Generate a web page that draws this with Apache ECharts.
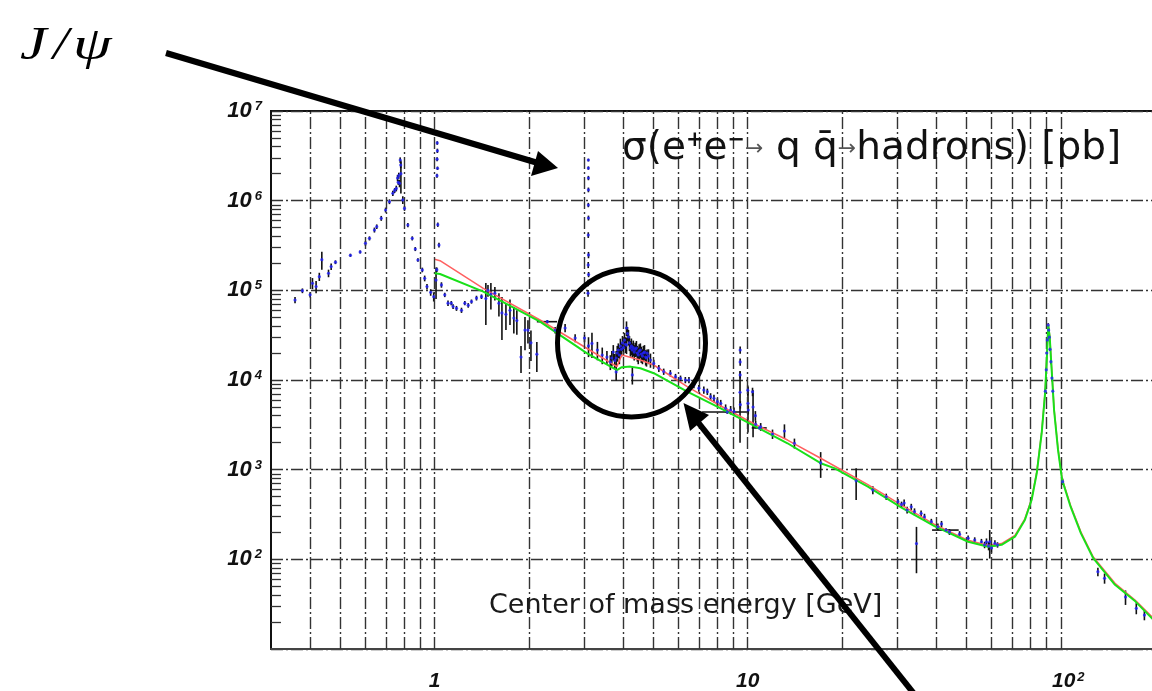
<!DOCTYPE html>
<html>
<head>
<meta charset="utf-8">
<title>sigma(e+e- -> hadrons)</title>
<script src="https://cdn.jsdelivr.net/npm/echarts@6.0.0/dist/echarts.min.js"></script>
<style>
html,body{margin:0;padding:0;background:#fff;}
#main{width:1152px;height:691px;}
</style>
</head>
<body>
<div id="main"></div>
<script>
// ---------------- values ----------------
const xGridValues = [0.4,0.5,0.6,0.7,0.8,0.9,1,2,3,4,5,6,7,8,9,10,20,30,40,50,60,70,80,90,100];
const xLabelValues = [1, 10, 100];
const yLabelExponents = [2, 3, 4, 5, 6, 7];

// [energy GeV, sigma pb, error pb]
const rhoOmegaPoints = [
  [0.358,7.8e4,6e3],[0.378,9.9e4,6e3],[0.400,8.9e4,6e3],[0.407,1.2e5,1.7e4],[0.418,1.1e5,1.7e4],
  [0.428,1.42e5,1.5e4],[0.436,2.2e5,5e4],[0.458,1.55e5,1.5e4],[0.467,1.84e5,1.5e4],[0.482,2.06e5,1e4],
  [0.538,2.46e5,1e4],[0.578,2.68e5,1e4],[0.601,3.35e5,2e4],[0.619,3.8e5,2e4],[0.642,4.71e5,3e4],
  [0.653,5.13e5,3e4],[0.675,6.36e5,4e4],[0.697,7.87e5,5e4],[0.717,9.75e5,6e4],[0.735,1.21e6,8e4],
  [0.745,1.3e6,8e4],[0.754,1.37e6,1e5],[0.761,1.79e6,1.5e5],[0.765,1.6e6,1e5],[0.768,1.9e6,1.5e5],
  [0.772,1.56e6,1.5e5],[0.776,2.84e6,2e5],[0.779,2.5e6,2e5],[0.780,2.0e6,8e5],[0.791,1.02e6,1e5],
  [0.801,8.2e5,5e4],[0.821,5.35e5,3e4],[0.848,3.8e5,2e4],[0.867,2.89e5,1.5e4],[0.884,2.18e5,1e4],
  [0.913,1.69e5,1e4],[0.929,1.36e5,1e4],[0.945,1.1e5,8e3],[0.971,9.5e4,8e3],[0.993,8.5e4,1e4]
];
const phiPoints = [
  [1.010,1.3e5,5e4],[1.016,1.7e5,1e4],[1.017,1.9e6,1e5],[1.018,2.9e6,1.5e5],[1.019,4.4e6,2e5],
  [1.020,3.6e6,2e5],[1.021,2.3e6,1e5],[1.023,5.4e5,3e4],[1.032,3.2e5,2e4],[1.051,1.15e5,8e3],
  [1.077,8.9e4,5e3],[1.103,7.2e4,5e3],[1.130,7.2e4,4e3],[1.145,6.6e4,4e3],[1.174,6.3e4,4e3],
  [1.218,6.0e4,4e3],[1.248,7.2e4,4e3],[1.280,6.8e4,4e3],[1.311,7.5e4,4e3],[1.360,8.2e4,5e3],
  [1.411,8.5e4,5e3]
];
const lightQuarkPoints = [
  [1.457,8.1e4,4e4],[1.480,1.0e5,1.5e4],[1.512,9.1e4,3e4],[1.557,9.3e4,1.6e4],[1.604,7.2e4,2.1e4],
  [1.640,5.6e4,2.8e4],[1.689,5.4e4,1.8e4],[1.740,6.0e4,1.9e4],[1.790,4.9e4,1.6e4],[1.830,4.6e4,1.4e4],
  [1.887,1.8e4,6e3],[1.943,3.6e4,1.45e4],[1.986,3.6e4,1.05e4],[2.030,2.6e4,9.7e3],[2.120,1.94e4,7.1e3],
  [2.425,3.6e4,3e3],[2.610,3.8e4,4e3],[2.810,2.94e4,3e3],[3.010,2.94e4,3e3]
];
const jpsiPoints = [
  [3.090,9.3e4,8e3],[3.092,1.21e5,1e4],[3.094,1.92e5,1.5e4],[3.095,4.14e5,3e4],[3.096,8.95e5,5e4],
  [3.097,2.84e6,1e5],[3.097,2.31e6,1e5],[3.098,1.79e6,1e5],[3.098,1.32e6,8e4],[3.099,6.41e5,4e4],
  [3.100,2.48e5,2e4],[3.100,2.4e4,6e3],[3.102,1.5e5,1e4]
];
const charmPoints = [
  [3.18,2.56e4,8e3],[3.31,2.16e4,5e3],[3.43,1.9e4,4e3],[3.55,1.8e4,3e3],
  [3.64,1.59e4,3e3],[3.68,1.76e4,3.5e3],[3.72,2.05e4,4e3],[3.76,1.65e4,3e3],[3.80,1.76e4,3.5e3],
  [3.80,1.23e4,2.5e3],[3.83,2.0e4,4e3],[3.86,2.16e4,4e3],[3.89,1.9e4,4e3],[3.92,2.39e4,5e3],
  [3.95,2.2e4,4e3],[3.98,2.59e4,5e3],[4.01,2.3e4,4.5e3],[4.04,2.79e4,5.5e3],[4.07,2.5e4,5e3],
  [4.10,2.45e4,5e3],[4.10,3.8e4,7e3],[4.13,3.3e4,6e3],[4.16,3.02e4,6e3],[4.19,2.6e4,5e3],
  [4.22,2.27e4,4.5e3],[4.25,2.4e4,5e3],[4.28,2.16e4,4e3],[4.28,1.14e4,2.5e3],[4.31,2.3e4,4.5e3],
  [4.34,2.05e4,4e3],[4.37,2.2e4,4e3],[4.41,2.27e4,4.5e3],[4.44,2.0e4,4e3],[4.47,1.9e4,4e3],
  [4.50,2.1e4,4e3],[4.54,2.16e4,4e3],[4.57,1.95e4,4e3],[4.61,1.85e4,3.5e3],[4.64,2.0e4,4e3],
  [4.68,2.05e4,4e3],[4.72,1.8e4,3.5e3],[4.75,1.76e4,3.5e3],[4.82,1.85e4,3.5e3],[4.89,1.67e4,3e3]
];
const midEnergyPoints = [
  [4.77,1.99e4,2e3],[5.01,1.53e4,1.5e3],[5.20,1.35e4,1.2e3],[5.39,1.24e4,1e3],[5.66,1.19e4,1e3],
  [5.88,1.09e4,800],[6.10,1.04e4,800],[6.32,1.0e4,800],[6.49,1.0e4,800],[6.73,8.8e3,700],
  [6.98,8.1e3,700],[7.24,7.74e3,700],[7.43,7.41e3,600],[7.61,6.52e3,600],[7.80,6.25e3,600],
  [8.00,5.73e3,500],[8.20,5.5e3,500],[8.50,4.84e3,500],[8.82,4.63e3,500],[9.04,4.44e3,500]
];
const upsilonPoints = [
  [9.45,7.3e3,5.3e3],[9.46,2.16e4,2e3],[9.46,1.59e4,1.5e3],[9.46,1.14e4,1e3],[9.47,5.3e3,500],
  [10.0,7.7e3,1e3],[10.02,5.5e3,2.9e3],[10.04,4.63e3,500],[10.36,7.4e3,800],[10.4,5.0e3,2.7e3],
  [10.58,4.0e3,500],[10.6,3.2e3,300],[11.0,3.01e3,300],[12.0,2.5e3,300],[13.1,2.7e3,500],
  [14.1,1.97e3,250],[17.1,1.19e3,380]
];
const petraPoints = [
  [22.2,750,290],[25.1,593,60],[27.7,500,40],[30.2,440,30],[31.0,410,30],[31.6,425,40],
  [32.3,355,30],[33.3,386,30],[34.1,340,30],[34.6,150,80],[35.8,326,25],[36.7,297,25],
  [38.6,263,20],[40.5,231,20],[41.6,248,20],[44.1,202,15],[47.5,191,15],[50.6,172,12],
  [53.1,164,12],[55.8,157,12],[57.1,145,12],[57.9,156,15],[58.8,141,15],[59.3,157,55],
  [60.1,134,15],[61.6,151,12],[62.8,145,10]
];
const zPolePoints = [
  [89.3,7.5e3,500],[89.9,1.3e4,800],[90.2,2.0e4,1e3],[90.6,2.8e4,1.5e3],[91.2,4.1e4,2e3],
  [91.5,3.6e4,2e3],[91.9,3.0e4,1.5e3],[92.4,2.2e4,1e3],[93.0,1.6e4,1e3],[93.7,1.05e4,800],
  [94.3,7.5e3,500],[101.4,735,60],[131.4,72.8,8],[138,61.5,8],[161,38,7],[174.3,28.4,4],[185,23.9,3]
];
// [energy, sigma, sigma error, energy error]
const energyBinPoints = [[2.29,4.47e4,2e3,0.17],[8.6,4.4e3,200,1.45],[10.9,2.92e3,100,0.6],[43.0,212,10,4.2]];

// theory curves
const greenE = [1.0,1.04,1.43,2.17,3.06,3.82,3.96,4.22,4.54,5.01,6.41,8.20,10.5,13.4,17.1,18.9,24.2,30.9,39.5,50.6,58.6,64.7,71.4,76.8,80.7,83.8,86.9,89.1,90.3,91.2,92.2,93.4,95.2,98.0,101,107.5,116,127,149,173,198];
const greenS = [1.55e5,1.52e5,9.66e4,4.47e4,1.99e4,1.29e4,1.39e4,1.41e4,1.35e4,1.19e4,7.41e3,4.83e3,3.07e3,1.97e3,1.18e3,1.04e3,646,380,235,157,138,145,179,275,459,912,2550,7100,1.8e4,4.1e4,3.0e4,1.4e4,4.6e3,1.66e3,770,386,195,103,52,34,21];
const redE = [1.0,1.04,1.43,2.17,3.06,3.82,3.96,4.54,5.01,6.41,8.20,10.5,13.4,17.1,24.2,30.9,39.5,50.6,58.6,64.7,71.4,76.8,80.7,83.8,86.9,89.1,90.3,91.2,92.2,93.4,95.2,98.0,101,107.5,116,127,149,173,198];
const redS = [2.22e5,2.14e5,1.05e5,4.67e4,2.26e4,1.41e4,1.90e4,1.67e4,1.47e4,8.42e3,5.13e3,3.23e3,2.14e3,1.34e3,680,404,245,163,143,150,185,283,472,940,2620,7300,1.85e4,4.2e4,3.1e4,1.45e4,4.75e3,1.72e3,795,398,201,106,54,35,22];

// ---------------- chart ----------------
const measured = [].concat(rhoOmegaPoints, phiPoints, lightQuarkPoints, jpsiPoints, charmPoints,
  midEnergyPoints, upsilonPoints, petraPoints, zPolePoints);
const errData = measured.concat(energyBinPoints.map(p => [p[0], p[1], p[2]]));
const dotData = errData.map(p => [p[0], p[1]]);

const labelFont = {fontFamily:'"Liberation Sans", Arial, sans-serif', fontWeight:'bold', fontStyle:'italic', color:'#111'};
const gridDash = [12, 3, 2, 3];
const titleFont = '"DejaVu Sans"';

function isClose(a, b) { return Math.abs(Math.log10(a) - Math.log10(b)) < 1e-6; }

const option = {
  animation: false,
  backgroundColor: '#fff',
  grid: {left: 271, top: 111, width: 884, height: 538, outerBoundsMode: 'none', containLabel: false,
         show: true, borderColor: '#111', borderWidth: 2, backgroundColor: 'transparent'},
  title: [
    {
      left: 622, top: 126, padding: 0,
      text: '{a|σ(e}{s|+}{a|e}{s|−}{r|→}{a| q }{a|q̄}{r|→}{a|hadrons) [pb]}',
      textStyle: {fontWeight: 'normal', rich: {
        a: {fontFamily: titleFont, fontSize: 39, fontWeight: 'normal', lineHeight: 46, color: '#111', verticalAlign: 'middle'},
        s: {fontFamily: titleFont, fontSize: 21, fontWeight: 'bold', lineHeight: 20, color: '#111', verticalAlign: 'top', padding: [4, 0, 0, 0]},
        r: {fontFamily: titleFont, fontSize: 22, fontWeight: 'normal', lineHeight: 22, color: '#555', verticalAlign: 'middle'}
      }}
    },
    {
      left: 489, top: 592, padding: 0,
      text: 'Center of mass energy [GeV]',
      textStyle: {fontFamily: titleFont, fontSize: 27, fontWeight: 'normal', color: '#1a1a1a'}
    }
  ],
  xAxis: {
    type: 'log', logBase: 10, min: 0.3, max: 200,
    axisLine: {show: true, onZero: false, lineStyle: {color: '#444', width: 2}},
    axisTick: {show: false},
    splitLine: {show: false},
    axisLabel: {
      margin: 32, verticalAlign: 'middle', showMinLabel: true, showMaxLabel: true,
      formatter: function (v) {
        if (isClose(v, xLabelValues[0])) return '{b|1}';
        if (isClose(v, xLabelValues[1])) return '{b|10}';
        if (isClose(v, xLabelValues[2])) return '{b2|10}{s|2}';
        return '';
      },
      rich: {
        b: Object.assign({fontSize: 21, lineHeight: 21, verticalAlign: 'middle'}, labelFont),
        b2: Object.assign({fontSize: 21, lineHeight: 21, verticalAlign: 'middle', padding: [10, 0, 10, 15]}, labelFont),
        s: Object.assign({fontSize: 13, lineHeight: 13, verticalAlign: 'top', padding: [0, 0, 0, 2]}, labelFont)
      }
    }
  },
  yAxis: {
    type: 'log', logBase: 10, min: 10, max: 1e7,
    axisLine: {show: true, lineStyle: {color: '#111', width: 2}},
    axisTick: {show: false, inside: true},
    minorTick: {show: true, splitNumber: 9, length: 10, lineStyle: {color: '#333', width: 1.3}},
    splitLine: {show: true, lineStyle: {color: '#333', width: 1.4, type: gridDash}},
    axisLabel: {
      margin: 9,
      formatter: function (v) {
        const e = Math.round(Math.log10(v));
        if (yLabelExponents.indexOf(e) < 0) return '';
        return '{b|10}{s|' + e + '}';
      },
      rich: {
        b: Object.assign({fontSize: 22, lineHeight: 22, verticalAlign: 'middle', padding: [4, 0, 4, 0]}, labelFont),
        s: Object.assign({fontSize: 13, lineHeight: 13, verticalAlign: 'top', padding: [0, 0, 0, 3]}, labelFont)
      }
    }
  },
  series: [
    {
      type: 'line', data: [], z: 1, silent: true,
      markLine: {
        silent: true, symbol: ['none', 'none'], label: {show: false}, animation: false,
        lineStyle: {color: '#333', width: 1.4, type: gridDash},
        data: xGridValues.map(v => ({xAxis: v}))
      }
    },
    {
      type: 'custom', z: 3, silent: true, clip: true,
      encode: {x: 0, y: 1},
      data: errData,
      renderItem: function (params, api) {
        const x = api.value(0), y = api.value(1), e = api.value(2);
        const top = api.coord([x, y + e]);
        const bot = api.coord([x, Math.max(y - e, 10)]);
        return {type: 'line', shape: {x1: top[0], y1: top[1], x2: bot[0], y2: bot[1]},
                style: {stroke: '#111', lineWidth: 1.6}};
      }
    },
    {
      type: 'custom', z: 3, silent: true, clip: true,
      encode: {x: 0, y: 1},
      data: energyBinPoints,
      renderItem: function (params, api) {
        const x = api.value(0), y = api.value(1), dx = api.value(3);
        const l = api.coord([x - dx, y]);
        const r = api.coord([x + dx, y]);
        return {type: 'line', shape: {x1: l[0], y1: l[1], x2: r[0], y2: r[1]},
                style: {stroke: '#111', lineWidth: 1.6}};
      }
    },
    {
      type: 'line', z: 4, silent: true, showSymbol: false,
      data: redE.map((e, i) => [e, redS[i]]),
      lineStyle: {color: '#ff6060', width: 1.5}
    },
    {
      type: 'line', z: 5, silent: true, showSymbol: false,
      data: greenE.map((e, i) => [e, greenS[i]]),
      lineStyle: {color: '#19e019', width: 2}
    },
    {
      type: 'scatter', z: 6, silent: true,
      data: dotData, symbol: 'circle', symbolSize: 3.2,
      itemStyle: {color: '#2222ff'}
    }
  ],
  graphic: [
    {type: 'text', x: 20, y: 24, scaleX: 1.3, z: 100,
     style: {text: 'J', fontFamily: '"Liberation Serif", serif', fontStyle: 'italic', fontSize: 46, fill: '#000'}},
    {type: 'text', x: 53, y: 24, scaleX: 1.2, z: 100,
     style: {text: '/', fontFamily: '"Liberation Serif", serif', fontStyle: 'italic', fontSize: 46, fill: '#000'}},
    {type: 'text', x: 73, y: 24, scaleX: 1.35, z: 100,
     style: {text: 'ψ', fontFamily: '"Liberation Serif", serif', fontStyle: 'italic', fontSize: 46, fill: '#000'}},
    {type: 'line', z: 100, shape: {x1: 166, y1: 53, x2: 538, y2: 163}, style: {stroke: '#000', lineWidth: 6}},
    {type: 'polygon', z: 100, shape: {points: [[558, 168], [538, 151], [531, 176]]}, style: {fill: '#000'}},
    {type: 'circle', z: 100, shape: {cx: 631.5, cy: 343, r: 74}, style: {fill: 'none', stroke: '#000', lineWidth: 5}},
    {type: 'line', z: 100, shape: {x1: 915, y1: 695, x2: 697, y2: 421}, style: {stroke: '#000', lineWidth: 6}},
    {type: 'polygon', z: 100, shape: {points: [[683.5, 403], [690, 431], [709, 415]]}, style: {fill: '#000'}}
  ]
};

const chart = echarts.init(document.getElementById('main'), null, {renderer: 'canvas'});
chart.setOption(option);
</script>
</body>
</html>
